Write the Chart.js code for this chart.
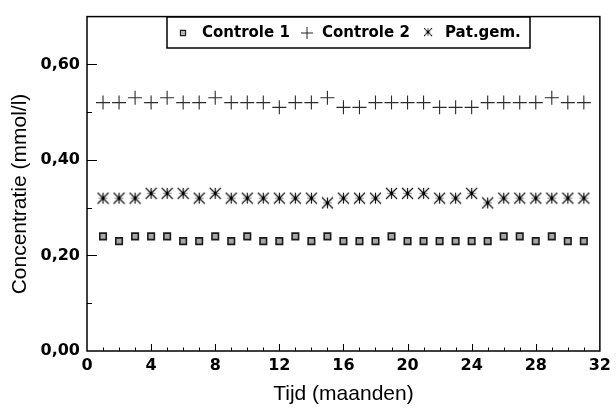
<!DOCTYPE html>
<html>
<head>
<meta charset="utf-8">
<script src="https://cdn.jsdelivr.net/npm/chart.js@4.4.0/dist/chart.umd.min.js"></script>
<style>
  html, body { margin: 0; padding: 0; background: #fff; }
</style>
</head>
<body>
<canvas id="myChart" width="616" height="409"></canvas>
<script>
const months = [1, 2, 3, 4, 5, 6, 7, 8, 9, 10, 11, 12, 13, 14, 15, 16, 17, 18, 19, 20, 21, 22, 23, 24, 25, 26, 27, 28, 29, 30, 31];

const controle1 = [0.24, 0.23, 0.24, 0.24, 0.24, 0.23, 0.23, 0.24, 0.23, 0.24, 0.23, 0.23, 0.24, 0.23, 0.24, 0.23,
  0.23, 0.23, 0.24, 0.23, 0.23, 0.23, 0.23, 0.23, 0.23, 0.24, 0.24, 0.23, 0.24, 0.23, 0.23];

const controle2 = [0.52, 0.52, 0.53, 0.52, 0.53, 0.52, 0.52, 0.53, 0.52, 0.52, 0.52, 0.51, 0.52, 0.52, 0.53, 0.51,
  0.51, 0.52, 0.52, 0.52, 0.52, 0.51, 0.51, 0.51, 0.52, 0.52, 0.52, 0.52, 0.53, 0.52, 0.52];

const patGem = [0.32, 0.32, 0.32, 0.33, 0.33, 0.33, 0.32, 0.33, 0.32, 0.32, 0.32, 0.32, 0.32, 0.32, 0.31, 0.32,
  0.32, 0.32, 0.33, 0.33, 0.33, 0.32, 0.32, 0.33, 0.31, 0.32, 0.32, 0.32, 0.32, 0.32, 0.32];

const seriesNames = ["Controle 1", "Controle 2", "Pat.gem."];
const yTickValues = [0, 0.2, 0.4, 0.6];
const yTitle = "Concentratie (mmol/l)";
const xTitle = "Tijd (maanden)";

const toPoints = (vals) => months.map((m, i) => ({ x: m, y: vals[i] }));

// asterisk marker: black X + vertical, lighter horizontal bar
function makeAsterisk(size) {
  const c = document.createElement("canvas");
  c.width = size;
  c.height = size;
  const g = c.getContext("2d");
  const m = size / 2, r = size / 2 - 1;
  g.lineWidth = 1.2;
  g.strokeStyle = "#9a9a9a";
  g.beginPath();
  g.moveTo(m - r + 1, m); g.lineTo(m + r - 1, m);
  g.stroke();
  g.strokeStyle = "#111";
  g.beginPath();
  g.moveTo(m - r, m - r); g.lineTo(m + r, m + r);
  g.moveTo(m + r, m - r); g.lineTo(m - r, m + r);
  g.moveTo(m, m - r); g.lineTo(m, m + r);
  g.stroke();
  g.fillStyle = "#000";
  g.fillRect(m - 1.5, m - 1.5, 3, 3);
  return c;
}
const asterisk = makeAsterisk(13);

// box round the plot, inward tick marks (major + minor)
const frameTicks = {
  id: "frameTicks",
  afterDraw(chart) {
    const { ctx, chartArea: a, scales } = chart;
    const x = scales.x, y = scales.y;
    ctx.save();
    ctx.strokeStyle = "#000";
    ctx.lineWidth = 1.5;
    ctx.strokeRect(a.left, a.top, a.right - a.left, a.bottom - a.top);
    ctx.lineWidth = 1;
    ctx.beginPath();
    for (let m = 1; m < 32; m++) {
      const px = Math.round(x.getPixelForValue(m)) + 0.5;
      const len = m % 4 === 0 ? 7 : 3.5;
      ctx.moveTo(px, a.bottom);
      ctx.lineTo(px, a.bottom - len);
    }
    for (let v = 1; v < 7; v++) {
      const py = Math.round(y.getPixelForValue(v / 10)) + 0.5;
      const len = v % 2 === 0 ? 10 : 5;
      ctx.moveTo(a.left, py);
      ctx.lineTo(a.left + len, py);
    }
    ctx.stroke();

    // y axis title, sits a little below the plot middle
    ctx.fillStyle = "#000";
    ctx.font = "21px 'Liberation Sans', Arial, sans-serif";
    ctx.textAlign = "center";
    ctx.textBaseline = "middle";
    ctx.translate(20, 194);
    ctx.rotate(-Math.PI / 2);
    ctx.fillText(yTitle, 0, 0);
    ctx.restore();
  },
};

// framed legend inside the plot
const boxLegend = {
  id: "boxLegend",
  afterDraw(chart) {
    const ctx = chart.ctx;
    const left = 167, top = 17, w = 363, h = 31;
    const midY = top + h / 2 + 0.5;
    ctx.save();
    ctx.fillStyle = "#fff";
    ctx.fillRect(left, top, w, h);
    ctx.strokeStyle = "#000";
    ctx.lineWidth = 1.5;
    ctx.strokeRect(left, top, w, h);

    const markerX = [183, 307, 428];
    const textX = [202, 322, 445];
    ctx.font = "bold 15px 'DejaVu Sans'";
    ctx.textBaseline = "middle";
    ctx.textAlign = "left";
    chart.data.datasets.forEach((ds, i) => {
      if (i === 0) {
        ctx.fillStyle = "#b8b8b8";
        ctx.strokeStyle = "#222";
        ctx.lineWidth = 1.2;
        Chart.helpers.drawPoint(ctx, { pointStyle: "rect", radius: 3.6, rotation: 0, borderWidth: 1.2 }, markerX[i], midY);
      } else if (i === 1) {
        ctx.strokeStyle = "#222";
        ctx.lineWidth = 1;
        Chart.helpers.drawPoint(ctx, { pointStyle: "cross", radius: 6, rotation: 0, borderWidth: 1 }, markerX[i], midY);
      } else {
        ctx.drawImage(asterisk, markerX[i] - 4.5, midY - 5.5, 9, 9);
      }
      ctx.fillStyle = "#000";
      ctx.fillText(ds.label, textX[i], midY + 0.5);
    });
    ctx.restore();
  },
};

const ctx = document.getElementById("myChart").getContext("2d");

const data = {
  datasets: [
    {
      label: seriesNames[0],
      data: toPoints(controle1),
      pointStyle: "rect",
      pointRadius: 4.6,
      backgroundColor: "#a8a8a8",
      borderColor: "#1a1a1a",
      borderWidth: 1.6,
    },
    {
      label: seriesNames[1],
      data: toPoints(controle2),
      pointStyle: "cross",
      pointRadius: 7,
      backgroundColor: "#222",
      borderColor: "#2a2a2a",
      borderWidth: 1.1,
    },
    {
      label: seriesNames[2],
      data: toPoints(patGem),
      pointStyle: asterisk,
      pointRadius: 6,
      backgroundColor: "#111",
      borderColor: "#111",
    },
  ],
};

const tickFont = { family: "'DejaVu Sans'", size: 16, weight: "bold" };
const titleFont = { family: "'Liberation Sans', Arial, sans-serif", size: 21 };

const config = {
  type: "scatter",
  data: data,
  plugins: [frameTicks, boxLegend],
  options: {
    responsive: false,
    devicePixelRatio: 1,
    animation: false,
    showLine: false,
    layout: { padding: { left: 0, top: 13, right: 13, bottom: 0 } },
    plugins: {
      legend: { display: false },
      tooltip: { enabled: false },
    },
    scales: {
      x: {
        type: "linear",
        min: 0,
        max: 32,
        grid: { display: false, drawTicks: false },
        border: { display: false },
        ticks: { stepSize: 4, color: "#000", font: tickFont, padding: 5, maxRotation: 0 },
        title: { display: true, text: xTitle, color: "#000", font: titleFont, padding: { top: 0, bottom: 2 } },
        afterFit(scale) { scale.height = 58; },
      },
      y: {
        min: 0,
        max: 0.7,
        grid: { display: false, drawTicks: false },
        border: { display: false },
        afterBuildTicks(scale) { scale.ticks = yTickValues.map((v) => ({ value: v })); },
        ticks: {
          color: "#000",
          font: tickFont,
          padding: 7,
          callback: (v) => v.toFixed(2).replace(".", ","),
        },
        title: { display: false },
        afterFit(scale) { scale.width = 87; },
      },
    },
  },
};

const myChart = new Chart(ctx, config);
</script>
</body>
</html>
